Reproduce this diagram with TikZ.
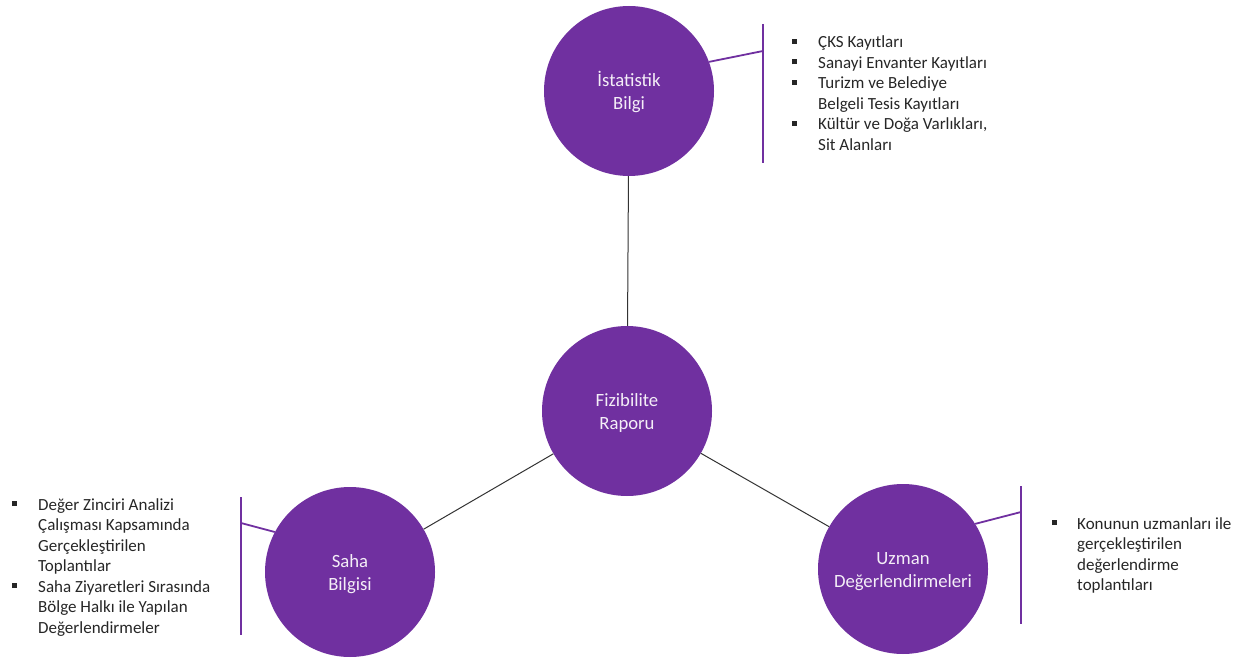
\documentclass[tikz,border=0pt]{standalone}
\usepackage{fontspec}
\setmainfont{Carlito}
\usepackage{xcolor}
\usetikzlibrary{positioning}

\definecolor{mor}{RGB}{112,48,160}
\definecolor{koyu}{RGB}{38,38,38}
\newcommand{\kare}{\rule[4pt]{5pt}{5pt}}
\newcommand{\daireyazi}[1]{\raisebox{-2.5pt}[\height][\depth]{\begin{tabular}{@{}c@{}}#1\end{tabular}}}

\begin{document}
\begin{tikzpicture}[x=1pt, y=-1pt,
    daire/.style={circle, fill=mor, draw=none, minimum size=170pt, inner sep=0pt,
        text=white!92!mor, font=\fontsize{18.7}{23}\selectfont},
    liste/.style={anchor=base west, inner sep=0pt, text=koyu,
        font=\fontsize{17}{20.5}\selectfont},
    bag/.style={draw=black!80, line width=1pt},
    parantez/.style={draw=mor, line width=1.8pt}]
    \useasboundingbox (0,0) rectangle (1244,660);

    \node[daire] (fiz) at (627,411) {\daireyazi{Fizibilite\\Raporu}};
    \node[daire] (ist) at (629,91) {\daireyazi{İstatistik\\Bilgi}};
    \node[daire] (saha) at (350,572) {\daireyazi{Saha\\Bilgisi}};
    \node[daire] (uzman) at (903,569) {\daireyazi{Uzman\\Değerlendirmeleri}};

    \draw[bag] (ist) -- (fiz);
    \draw[bag] (fiz) -- (saha);
    \draw[bag] (fiz) -- (uzman);

    % parantezler
    \coordinate (istust) at (763,24);
    \coordinate (istalt) at (763,163);
    \coordinate (istkol) at (763,51);
    \draw[parantez] (istust) -- (istalt);
    \draw[parantez] (ist.20) -- (istkol);

    \coordinate (sahaust) at (241,497);
    \coordinate (sahaalt) at (241,635);
    \coordinate (sahakol) at (241,523);
    \draw[parantez] (sahaust) -- (sahaalt);
    \draw[parantez] (saha.152) -- (sahakol);

    \coordinate (uzmanust) at (1021,486);
    \coordinate (uzmanalt) at (1021,624);
    \coordinate (uzmankol) at (1021,512);
    \draw[parantez] (uzmanust) -- (uzmanalt);
    \draw[parantez] (uzman.32) -- (uzmankol);

    % maddeler
    \node[liste] (istliste) at (792,48) {\begin{tabular}[t]{@{}p{26pt}@{}l@{}}
        \kare & ÇKS Kayıtları\\
        \kare & Sanayi Envanter Kayıtları\\
        \kare & Turizm ve Belediye\\
              & Belgeli Tesis Kayıtları\\
        \kare & Kültür ve Doğa Varlıkları,\\
              & Sit Alanları
    \end{tabular}};
    \node[liste] (sahaliste) at (12,510) {\begin{tabular}[t]{@{}p{26pt}@{}l@{}}
        \kare & Değer Zinciri Analizi\\
              & Çalışması Kapsamında\\
              & Gerçekleştirilen\\
              & Toplantılar\\
        \kare & Saha Ziyaretleri Sırasında\\
              & Bölge Halkı ile Yapılan\\
              & Değerlendirmeler
    \end{tabular}};
    \node[liste] (uzmanliste) at (1052,529) {\begin{tabular}[t]{@{}p{25pt}@{}l@{}}
        \kare & Konunun uzmanları ile\\
              & gerçekleştirilen\\
              & değerlendirme\\
              & toplantıları
    \end{tabular}};
\end{tikzpicture}
\end{document}
